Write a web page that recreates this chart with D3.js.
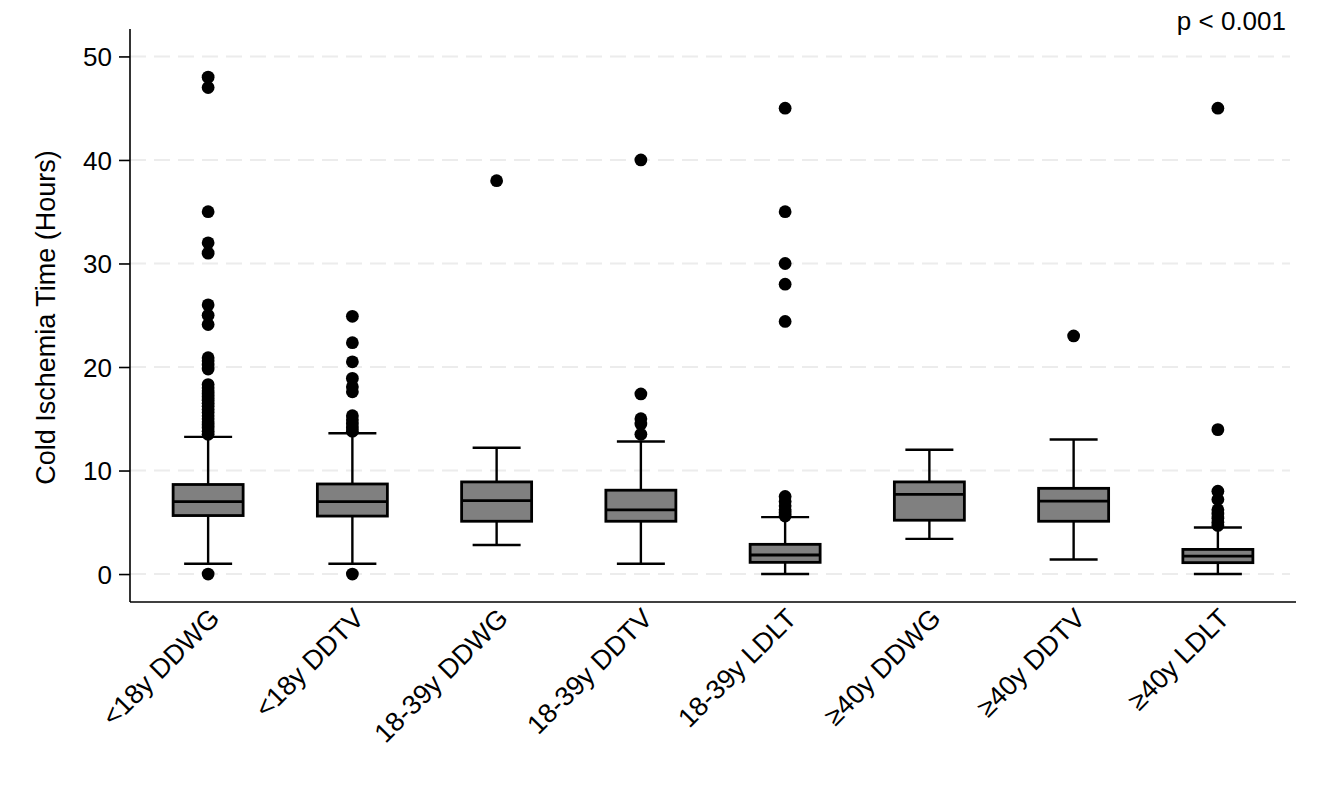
<!DOCTYPE html>
<html>
<head>
<meta charset="utf-8">
<script src="https://cdn.jsdelivr.net/npm/d3@7"></script>
<style>
  body { margin: 0; background: #fff; }
  svg { font-family: "Liberation Sans", Arial, Helvetica, sans-serif; }
</style>
</head>
<body>
<svg id="chart"></svg>
<script>
const width = 1326;
const height = 796;

// Data
const groups = ["<18y DDWG", "<18y DDTV", "18-39y DDWG", "18-39y DDTV", "18-39y LDLT", "≥40y DDWG", "≥40y DDTV", "≥40y LDLT"];
const whiskerLow = [1.0, 1.0, 2.8, 1.0, 0.0, 3.4, 1.4, 0.0];
const q1 = [5.65, 5.6, 5.1, 5.1, 1.13, 5.2, 5.1, 1.1];
const median = [7.0, 7.0, 7.1, 6.2, 1.84, 7.7, 7.05, 1.74];
const q3 = [8.65, 8.7, 8.9, 8.1, 2.87, 8.9, 8.28, 2.38];
const whiskerHigh = [13.25, 13.6, 12.2, 12.8, 5.5, 12.0, 13.0, 4.5];
const outliers = [
  [0, 48, 47, 35, 32, 31, 26, 25, 24.1, 20.9, 20.6, 20.2, 19.8, 18.3, 18.0, 17.7, 17.4, 17.1, 16.8, 16.5,
   16.2, 15.9, 15.6, 15.3, 15.0, 14.7, 14.4, 14.1, 13.8, 13.5],
  [0, 24.9, 22.35, 20.5, 18.9, 18.1, 17.6, 15.3, 14.9, 14.5, 14.1, 13.8],
  [38],
  [40, 17.4, 15.0, 14.5, 13.5],
  [45, 35, 30, 28, 24.4, 7.5, 7.0, 6.6, 6.2, 5.9, 5.6],
  [],
  [23],
  [45, 13.95, 8.0, 7.2, 6.2, 5.8, 5.4, 5.0, 4.7]
];
const yTicks = [0, 10, 20, 30, 40, 50];
const yLabel = "Cold Ischemia Time (Hours)";
const pLabel = "p < 0.001";

const plot = { left: 130, right: 1296, top: 29, bottom: 602 };

const svg = d3.select("#chart").attr("width", width).attr("height", height);

const x = d3.scaleBand()
  .domain(groups)
  .range([136, 1290])
  .padding(0);

const y = d3.scaleLinear()
  .domain([-2.7, 52.65])
  .range([plot.bottom, plot.top]);

const boxW = 70;
const capW = 48;
const cx = (i) => x(groups[i]) + x.bandwidth() / 2;

// Grid
svg.append("g")
  .selectAll("line")
  .data(yTicks)
  .join("line")
  .attr("x1", plot.left)
  .attr("x2", 1290)
  .attr("y1", (d) => y(d))
  .attr("y2", (d) => y(d))
  .attr("stroke", "#ececec")
  .attr("stroke-width", 2)
  .attr("stroke-dasharray", "16,8");

// Boxes
const box = svg.append("g")
  .selectAll("g")
  .data(groups.map((g, i) => i))
  .join("g");

box.append("line")
  .attr("x1", cx).attr("x2", cx)
  .attr("y1", (i) => y(whiskerLow[i]))
  .attr("y2", (i) => y(whiskerHigh[i]))
  .attr("stroke", "#000")
  .attr("stroke-width", 2.4);

box.append("line")
  .attr("x1", (i) => cx(i) - capW / 2).attr("x2", (i) => cx(i) + capW / 2)
  .attr("y1", (i) => y(whiskerHigh[i])).attr("y2", (i) => y(whiskerHigh[i]))
  .attr("stroke", "#000").attr("stroke-width", 2.4);

box.append("line")
  .attr("x1", (i) => cx(i) - capW / 2).attr("x2", (i) => cx(i) + capW / 2)
  .attr("y1", (i) => y(whiskerLow[i])).attr("y2", (i) => y(whiskerLow[i]))
  .attr("stroke", "#000").attr("stroke-width", 2.4);

box.append("rect")
  .attr("x", (i) => cx(i) - boxW / 2)
  .attr("width", boxW)
  .attr("y", (i) => y(q3[i]))
  .attr("height", (i) => y(q1[i]) - y(q3[i]))
  .attr("fill", "#808080")
  .attr("stroke", "#000")
  .attr("stroke-width", 2.8);

box.append("line")
  .attr("x1", (i) => cx(i) - boxW / 2).attr("x2", (i) => cx(i) + boxW / 2)
  .attr("y1", (i) => y(median[i])).attr("y2", (i) => y(median[i]))
  .attr("stroke", "#000").attr("stroke-width", 2.8);

// Outliers
box.selectAll("circle")
  .data((i) => outliers[i].map((v) => ({ i, v })))
  .join("circle")
  .attr("cx", (d) => cx(d.i))
  .attr("cy", (d) => y(d.v))
  .attr("r", 6.4)
  .attr("fill", "#000");

// Y axis
const yAxis = svg.append("g")
  .attr("transform", `translate(${plot.left},0)`)
  .call(d3.axisLeft(y).tickValues(yTicks).tickSize(11).tickPadding(7));
yAxis.select(".domain").remove();
yAxis.selectAll(".tick line").attr("stroke", "#000").attr("stroke-width", 1.6);
yAxis.selectAll(".tick text")
  .attr("fill", "#000")
  .style("font-size", "26px")
  .attr("dy", "0.36em");

svg.append("line")
  .attr("x1", plot.left).attr("x2", plot.left)
  .attr("y1", plot.top).attr("y2", plot.bottom)
  .attr("stroke", "#000").attr("stroke-width", 1.6);

svg.append("line")
  .attr("x1", plot.left).attr("x2", plot.right)
  .attr("y1", plot.bottom).attr("y2", plot.bottom)
  .attr("stroke", "#000").attr("stroke-width", 1.6);

// X labels
svg.append("g")
  .selectAll("text")
  .data(groups)
  .join("text")
  .attr("transform", (d, i) => `translate(${cx(i) + 13},${plot.bottom + 18}) rotate(-45)`)
  .attr("text-anchor", "end")
  .style("font-size", "27px")
  .attr("fill", "#000")
  .text((d) => d);

// Y title
svg.append("text")
  .attr("transform", `translate(55,${(plot.top + plot.bottom) / 2 + 2}) rotate(-90)`)
  .attr("text-anchor", "middle")
  .style("font-size", "27px")
  .attr("fill", "#000")
  .text(yLabel);

// p value
svg.append("text")
  .attr("x", 1286)
  .attr("y", 30)
  .attr("text-anchor", "end")
  .style("font-size", "26px")
  .attr("fill", "#000")
  .text(pLabel);
</script>
</body>
</html>
